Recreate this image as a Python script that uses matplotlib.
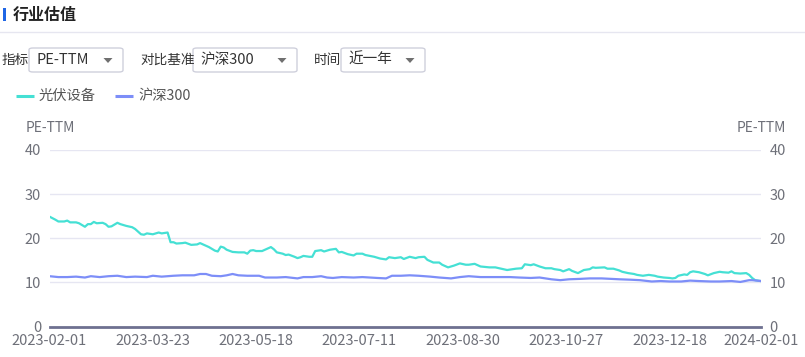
import matplotlib
matplotlib.use("Agg")
import matplotlib.pyplot as plt
from matplotlib.patches import Rectangle, FancyBboxPatch, Polygon
from matplotlib.lines import Line2D

plt.rcParams['font.family'] = ['Noto Sans CJK SC', 'DejaVu Sans']

# ---------------- data ----------------
title = "行业估值"
series_names = ["光伏设备", "沪深300"]
x_tick_idx = [0, 35, 70, 105, 140, 175, 210, 241]
x_tick_labels = ["2023-02-01", "2023-03-23", "2023-05-18", "2023-07-11",
                 "2023-08-30", "2023-10-27", "2023-12-18", "2024-02-01"]
n_days = 242

pv_idx = [0, 2, 3, 5, 6, 7, 9, 10, 12, 13, 14, 15, 16, 18, 19, 20, 21, 23, 24, 26,
          28, 29, 31, 32, 33, 35, 37, 38, 40, 41, 42, 43, 45, 46, 48, 50, 51, 53, 54, 56,
          57, 58, 59, 60, 62, 64, 66, 67, 68, 69, 70, 72, 73, 75, 76, 77, 79, 80, 81, 83,
          84, 85, 86, 88, 89, 90, 92, 93, 95, 97, 98, 99, 101, 103, 104, 106, 107, 110, 112, 114,
          115, 117, 119, 120, 122, 124, 125, 127, 128, 130, 132, 133, 135, 137, 139, 141, 142, 144, 146, 149,
          151, 153, 155, 157, 158, 160, 161, 163, 164, 166, 168, 170, 171, 173, 174, 176, 177, 179, 181, 183,
          184, 185, 188, 189, 191, 193, 194, 196, 198, 199, 201, 203, 205, 206, 208, 210, 211, 212, 213, 215,
          216, 217, 218, 220, 222, 223, 225, 227, 228, 230, 231, 232, 234, 236, 237, 238, 239, 241]
pv_vals = [24.9, 24.2, 23.8, 23.8, 24.0, 23.6, 23.6, 23.4, 22.6, 23.2, 23.2, 23.7, 23.4, 23.5, 23.2, 22.6, 22.7, 23.5, 23.2, 22.8,
           22.5, 22.1, 20.9, 20.8, 21.1, 20.9, 21.3, 21.1, 21.3, 19.1, 19.1, 18.8, 18.9, 19.0, 18.5, 18.6, 18.9, 18.3, 18.0, 17.2,
           17.0, 18.1, 17.9, 17.4, 16.9, 16.8, 16.8, 16.5, 17.2, 17.3, 17.1, 17.1, 17.4, 18.0, 17.5, 16.8, 16.5, 16.2, 16.3, 15.8,
           15.5, 15.7, 16.0, 15.8, 15.8, 17.1, 17.3, 17.0, 17.4, 17.6, 16.8, 16.9, 16.4, 16.1, 16.5, 16.5, 16.2, 15.8, 15.4, 15.2,
           15.7, 15.5, 15.7, 15.3, 15.8, 15.5, 15.7, 15.8, 15.1, 14.5, 14.5, 14.0, 13.4, 13.8, 14.3, 14.0, 14.0, 14.2, 13.6, 13.4,
           13.4, 13.1, 12.8, 13.0, 13.1, 13.2, 14.1, 13.9, 14.1, 13.6, 13.2, 13.2, 13.0, 12.8, 12.5, 13.0, 12.6, 12.1, 12.8, 13.0,
           13.4, 13.3, 13.4, 13.1, 13.1, 12.7, 12.4, 12.1, 11.9, 11.7, 11.5, 11.7, 11.5, 11.3, 11.1, 11.0, 10.9, 11.0, 11.5, 11.8,
           11.7, 12.3, 12.5, 12.3, 11.9, 11.6, 12.1, 12.4, 12.3, 12.2, 12.5, 12.1, 12.0, 12.1, 11.7, 11.0, 10.5, 10.3]

hs_idx = [0, 3, 6, 9, 12, 14, 17, 20, 23, 26, 29, 33, 35, 38, 42, 45, 49, 51, 53, 55,
          58, 60, 62, 64, 67, 69, 71, 73, 77, 80, 84, 86, 89, 92, 94, 96, 99, 103, 106, 111,
          114, 116, 119, 122, 125, 129, 132, 136, 139, 142, 146, 149, 153, 156, 159, 163, 166, 170, 173, 176,
          180, 183, 187, 190, 193, 197, 200, 204, 207, 210, 214, 217, 220, 224, 227, 231, 234, 237, 238, 241]
hs_vals = [11.4, 11.2, 11.2, 11.3, 11.1, 11.4, 11.2, 11.4, 11.5, 11.2, 11.3, 11.2, 11.5, 11.3, 11.5, 11.6, 11.6, 11.9, 11.9, 11.5,
           11.4, 11.6, 11.9, 11.6, 11.5, 11.5, 11.5, 11.1, 11.1, 11.2, 10.9, 11.2, 11.2, 11.4, 11.1, 11.0, 11.2, 11.1, 11.2, 11.0,
           10.9, 11.5, 11.5, 11.6, 11.5, 11.3, 11.1, 10.9, 11.2, 11.4, 11.2, 11.2, 11.2, 11.2, 11.1, 11.0, 11.1, 10.7, 10.5, 10.7,
           10.8, 10.9, 10.9, 10.8, 10.7, 10.6, 10.5, 10.2, 10.3, 10.2, 10.2, 10.4, 10.3, 10.2, 10.2, 10.3, 10.1, 10.5, 10.5, 10.3]

y_ticks = [0, 10, 20, 30, 40]
axis_name = "PE-TTM"

# ---------------- figure ----------------
W, H = 805, 357
fig = plt.figure(figsize=(W / 100, H / 100), dpi=100)
fig.patch.set_facecolor("white")

def fx(px):
    return px / W

def fy(py):
    return 1 - py / H

TXT = "#333333"
GRAY = "#6e7079"

# header
fig.patches.append(Rectangle((fx(3), fy(21)), fx(2.5), 13 / H, transform=fig.transFigure,
                             facecolor="#1f66e5", edgecolor="none"))
fig.text(fx(13), fy(15), title, fontsize=11.5, fontweight="bold", color="#222222",
         va="center", ha="left")
fig.add_artist(Line2D([0, 1], [fy(32), fy(32)], transform=fig.transFigure,
                      color="#e6e6f0", lw=1))

# dropdown controls
controls = [("指标", 2, 29, 123, "PE-TTM"),
            ("对比基准", 140, 193, 297, "沪深300"),
            ("时间", 314, 341, 425, "近一年")]
for lab, lx, bx0, bx1, val in controls:
    fig.text(fx(lx), fy(60), lab, fontsize=9.8, color=TXT, va="center", ha="left")
    fig.patches.append(FancyBboxPatch((fx(bx0), fy(72)), fx(bx1 - bx0), 24 / H,
                                      boxstyle="round,pad=0,rounding_size=0.005",
                                      transform=fig.transFigure, facecolor="white",
                                      edgecolor="#cfd0dc", lw=1))
    fig.text(fx(bx0 + 7), fy(60), val, fontsize=10.5, color=TXT, va="center", ha="left")
    ax0 = bx1 - 15
    fig.patches.append(Polygon([(fx(ax0 - 4.5), fy(58)), (fx(ax0 + 4.5), fy(58)), (fx(ax0), fy(63))],
                               closed=True, transform=fig.transFigure,
                               facecolor="#707070", edgecolor="none"))

# legend
colors = ["#45e0d4", "#7d8ef8"]
leg_x = [16, 115]
for name, c, lx in zip(series_names, colors, leg_x):
    fig.add_artist(Line2D([fx(lx), fx(lx + 18)], [fy(96), fy(96)], transform=fig.transFigure,
                          color=c, lw=2.2, solid_capstyle="butt"))
    fig.text(fx(lx + 23), fy(96), name, fontsize=10.3, color="#555555", va="center", ha="left")

# chart axes
left, right, top, bottom = 49.5, 761, 150, 326.5
ax = fig.add_axes([fx(left), fy(bottom), fx(right - left), (bottom - top) / H])
ax.set_xlim(0, n_days - 1)
ax.set_ylim(0, 40)
ax.set_facecolor("none")
for s in ["top", "left", "right"]:
    ax.spines[s].set_visible(False)
ax.spines["bottom"].set_color("#6e7090")
ax.spines["bottom"].set_linewidth(2)
ax.set_yticks(y_ticks)
ax.grid(axis="y", color="#e6e6f2", lw=1)
ax.set_axisbelow(True)
ax.tick_params(axis="y", length=0, pad=6, labelsize=10.5, labelcolor=GRAY)
ax.set_xticks(x_tick_idx)
ax.set_xticklabels(x_tick_labels)
ax.tick_params(axis="x", length=0, pad=5.5, labelsize=10.5, labelcolor=GRAY)

ax.plot(pv_idx, pv_vals, color=colors[0], lw=1.6, solid_joinstyle="round", zorder=3)
ax.plot(hs_idx, hs_vals, color=colors[1], lw=1.6, solid_joinstyle="round", zorder=3)

ax2 = ax.twinx()
ax2.set_ylim(0, 40)
ax2.set_yticks(y_ticks)
for s in ["top", "left", "right", "bottom"]:
    ax2.spines[s].set_visible(False)
ax2.tick_params(axis="y", length=0, pad=6, labelsize=10.5, labelcolor=GRAY)

fig.text(fx(26), fy(128), axis_name, fontsize=10, color=GRAY, va="center", ha="left")
fig.text(fx(786), fy(128), axis_name, fontsize=10, color=GRAY, va="center", ha="right")

fig.savefig("out.png", dpi=100)
